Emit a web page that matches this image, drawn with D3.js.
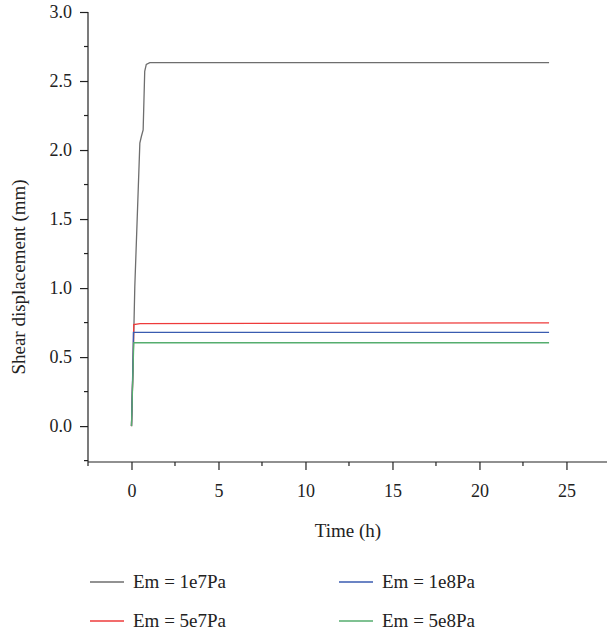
<!DOCTYPE html>
<html>
<head>
<meta charset="utf-8">
<script src="https://cdn.jsdelivr.net/npm/d3@7"></script>
<style>
  body { margin: 0; background: #fff; }
</style>
</head>
<body>
<svg id="chart" width="607" height="639"></svg>
<script>
// 数据：时间 (h) 与剪切位移 (mm)
const seriesNames = ['Em = 1e7Pa', 'Em = 5e7Pa', 'Em = 1e8Pa', 'Em = 5e8Pa'];
const seriesColors = ['#6e6e6e', '#ee3b3b', '#3a5bb0', '#55ad6e'];

const time1e7 = [0, 0.1, 0.19, 0.48, 0.57, 0.67, 0.76, 0.85, 1.05, 24];
const disp1e7 = [0, 0.5, 1.01, 2.05, 2.10, 2.145, 2.57, 2.62, 2.633, 2.633];

const time5e7 = [0, 0.1, 0.13, 0.5, 24];
const disp5e7 = [0, 0.5, 0.735, 0.742, 0.748];

const time1e8 = [0, 0.1, 0.11, 24];
const disp1e8 = [0, 0.55, 0.679, 0.679];

const time5e8 = [0, 0.13, 24];
const disp5e8 = [0, 0.604, 0.604];

const xTicks = [0, 5, 10, 15, 20, 25];
const yTicks = [0, 0.5, 1.0, 1.5, 2.0, 2.5, 3.0];

const series = [
  { t: time1e7, v: disp1e7 },
  { t: time5e7, v: disp5e7 },
  { t: time1e8, v: disp1e8 },
  { t: time5e8, v: disp5e8 }
];

const FONT = '"Liberation Serif", "DejaVu Serif", serif';
const svg = d3.select('#chart');
const plotLeft = 88, plotRight = 607, plotTop = 12, plotBottom = 462;

const x = d3.scaleLinear().domain([-2.5, 27.33]).range([plotLeft, plotRight]);
const y = d3.scaleLinear().domain([-0.26, 3.0]).range([plotBottom, plotTop]);

// 次刻度
const xMinor = d3.range(-2.5, 27.4, 2.5).filter(d => !xTicks.includes(d));
const yMinor = d3.range(-0.25, 3.01, 0.25).filter(d => !yTicks.some(t => Math.abs(t - d) < 1e-9));

const xAxis = svg.append('g')
  .attr('transform', `translate(0,${plotBottom})`)
  .call(d3.axisBottom(x).tickValues(xTicks).tickSize(8).tickPadding(14).tickFormat(d3.format('d')));

const yAxis = svg.append('g')
  .attr('transform', `translate(${plotLeft},0)`)
  .call(d3.axisLeft(y).tickValues(yTicks).tickSize(8).tickPadding(8).tickFormat(d3.format('.1f')));

[xAxis, yAxis].forEach(g => {
  g.attr('font-family', FONT).attr('font-size', 18);
  g.select('.domain').remove();
  g.selectAll('.tick line').attr('stroke', '#222').attr('stroke-width', 1.2);
  g.selectAll('.tick text').attr('fill', '#222');
});

// 轴线
svg.append('line').attr('x1', plotLeft).attr('x2', plotRight).attr('y1', plotBottom).attr('y2', plotBottom)
  .attr('stroke', '#222').attr('stroke-width', 1.2);
svg.append('line').attr('x1', plotLeft).attr('x2', plotLeft).attr('y1', plotTop).attr('y2', plotBottom)
  .attr('stroke', '#222').attr('stroke-width', 1.2);

svg.append('g').selectAll('line').data(xMinor).join('line')
  .attr('x1', d => x(d)).attr('x2', d => x(d))
  .attr('y1', plotBottom).attr('y2', plotBottom + 4)
  .attr('stroke', '#222').attr('stroke-width', 1.2);

svg.append('g').selectAll('line').data(yMinor).join('line')
  .attr('x1', plotLeft - 4).attr('x2', plotLeft)
  .attr('y1', d => y(d)).attr('y2', d => y(d))
  .attr('stroke', '#222').attr('stroke-width', 1.2);

// 曲线
const line = d3.line().x(d => x(d[0])).y(d => y(d[1]));

series.forEach((s, i) => {
  svg.append('path')
    .datum(s.t.map((t, j) => [t, s.v[j]]))
    .attr('fill', 'none')
    .attr('stroke', seriesColors[i])
    .attr('stroke-width', 1.3)
    .attr('d', line);
});

// 轴标题
svg.append('text')
  .attr('x', 348).attr('y', 537)
  .attr('text-anchor', 'middle')
  .attr('font-family', FONT).attr('font-size', 19).attr('fill', '#222')
  .text('Time (h)');

svg.append('text')
  .attr('transform', 'translate(25,277) rotate(-90)')
  .attr('text-anchor', 'middle')
  .attr('font-family', FONT).attr('font-size', 19).attr('fill', '#222')
  .text('Shear displacement (mm)');

// 图例
const legendPos = [
  { lx: 90, ly: 582 },
  { lx: 90, ly: 621 },
  { lx: 339, ly: 582 },
  { lx: 339, ly: 621 }
];

const legend = svg.append('g').selectAll('g').data(seriesNames).join('g')
  .attr('transform', (d, i) => `translate(${legendPos[i].lx},${legendPos[i].ly})`);

legend.append('line')
  .attr('x1', 0).attr('x2', 34)
  .attr('stroke', (d, i) => seriesColors[i])
  .attr('stroke-width', 1.3);

legend.append('text')
  .attr('x', 43).attr('dy', '0.33em')
  .attr('font-family', FONT).attr('font-size', 19).attr('fill', '#222')
  .text(d => d);
</script>
</body>
</html>
